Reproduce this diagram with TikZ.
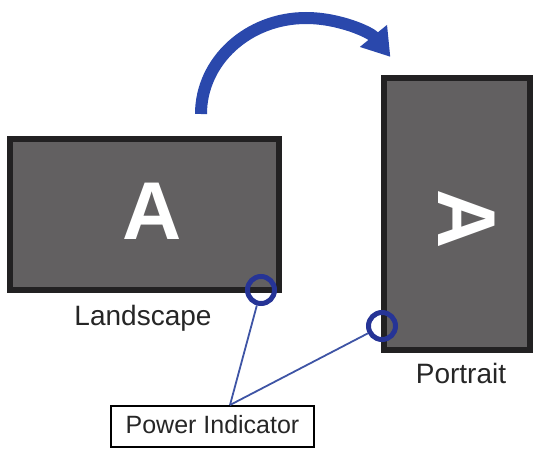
\documentclass[tikz,border=0pt]{standalone}
\usepackage{fontspec}
\setmainfont{Liberation Sans}
\usetikzlibrary{arrows.meta}
\definecolor{screengray}{RGB}{98,96,97}
\definecolor{bezel}{RGB}{34,33,34}
\definecolor{turnblue}{RGB}{42,72,172}
\definecolor{ledblue}{RGB}{38,52,150}
\definecolor{leadblue}{RGB}{62,84,165}
\begin{document}
\begin{tikzpicture}
    [x=1pt, y=1pt,
    screen/.style={draw=bezel, line width=6pt, fill=screengray,
        inner sep=0pt, outer sep=0pt},
    letter/.style={text=white, font=\fontsize{82}{82}\selectfont\bfseries},
    caption/.style={anchor=base, text=black!85, font=\fontsize{28}{30}\selectfont},
    led/.style={draw=ledblue, line width=5pt, circle, minimum size=27pt,
        inner sep=0pt},
    lead/.style={draw=leadblue, line width=1.8pt}]
    \useasboundingbox (0,0) rectangle (537,451);
    % the two screens
    \node [screen, minimum width=269pt, minimum height=151pt] (land) at (144.5,236.5) {};
    \node [screen, minimum width=146pt, minimum height=272pt] (port) at (457,237) {};
    \node [letter] (landA) at (152,240) {A};
    \node [letter, rotate=-90] (portA) at (467,232) {A};
    \node [caption] (landLabel) at (143,126) {Landscape};
    \node [caption] (portLabel) at (461,68) {Portrait};
    % rotation arrow
    \draw [turnblue, line width=12pt,
        -{Triangle[length=27pt, width=33pt]}]
        (201,337) arc [start angle=180, end angle=36.5, x radius=105, y radius=96];
    % indicator lamps and their label
    \node [led] (landLed) at (261,161) {};
    \node [led] (portLed) at (382,125) {};
    \node [draw, line width=1.6pt, minimum width=203pt, minimum height=41pt,
        inner sep=0pt] (power) at (212.5,24.5) {};
    \node [anchor=base, text=black!85, font=\fontsize{25}{27}\selectfont] (powerText) at (212.5,18) {Power Indicator};
    \coordinate (tap) at (230,46);
    \draw [lead] (landLed) -- (tap);
    \draw [lead] (portLed) -- (tap);
\end{tikzpicture}
\end{document}
